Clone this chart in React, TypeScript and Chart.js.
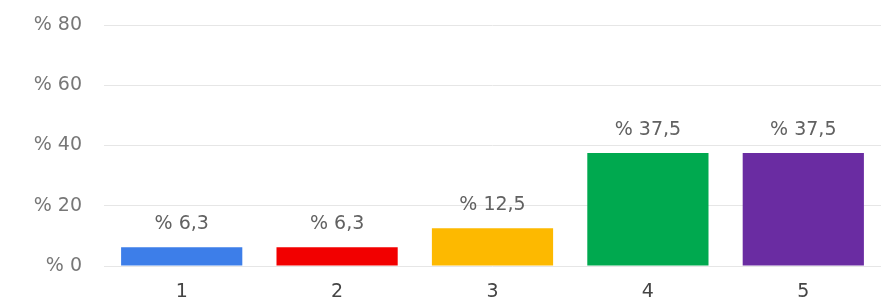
import React, { useEffect, useRef } from "react";
import { Chart, registerables } from "chart.js";

Chart.register(...registerables);

const categories: string[] = ["1", "2", "3", "4", "5"];
const percentages: number[] = [6.25, 6.25, 12.5, 37.5, 37.5];
const barColors: string[] = ["#3d7ee9", "#f20000", "#fdb900", "#00a94f", "#6a2ca2"];
const yTicks: number[] = [0, 20, 40, 60, 80];

const FONT = "'DejaVu Sans', sans-serif";

const fmt = (v: number) => "% " + (Math.round(v * 10) / 10).toFixed(1).replace(".", ",");

const valueLabels = {
  id: "valueLabels",
  afterDatasetsDraw(chart: any) {
    const ctx = chart.ctx;
    const meta = chart.getDatasetMeta(0);
    ctx.save();
    ctx.font = `19px ${FONT}`;
    ctx.fillStyle = "#616161";
    ctx.textAlign = "center";
    ctx.textBaseline = "middle";
    meta.data.forEach((bar: any, i: number) => {
      const v = chart.data.datasets[0].data[i];
      ctx.fillText(fmt(v), bar.x, bar.y - 23);
    });
    ctx.restore();
  },
};

export default function App() {
  const ref = useRef<HTMLCanvasElement | null>(null);

  useEffect(() => {
    document.body.style.margin = "0";
    if (!ref.current) return;
    const chart = new Chart(ref.current, {
      type: "bar",
      data: {
        labels: categories,
        datasets: [
          {
            data: percentages,
            backgroundColor: barColors,
            borderWidth: 0,
            barPercentage: 0.78,
            categoryPercentage: 1,
          },
        ],
      },
      options: {
        responsive: false,
        animation: false,
        events: [],
        layout: { padding: { top: 0, right: 0, bottom: 0, left: 0 } },
        plugins: {
          legend: { display: false },
          tooltip: { enabled: false },
        },
        scales: {
          x: {
            grid: { display: false, drawTicks: false },
            border: { display: false },
            ticks: {
              color: "#444444",
              font: { family: FONT, size: 19 },
              padding: 15,
              maxRotation: 0,
            },
            afterFit: (scale: any) => {
              scale.height = 40;
            },
          },
          y: {
            min: 0,
            max: 80,
            afterBuildTicks: (scale: any) => {
              scale.ticks = yTicks.map((v) => ({ value: v }));
            },
            grid: { color: "#e6e6e6", drawTicks: false, lineWidth: 1 },
            border: { display: false },
            ticks: {
              color: "#777777",
              font: { family: FONT, size: 19 },
              padding: 22,
              callback: (v: any) => "% " + v,
            },
            afterFit: (scale: any) => {
              scale.width = 104;
              scale.paddingTop = 25;
            },
          },
        },
      },
      plugins: [valueLabels],
    });
    return () => chart.destroy();
  }, []);

  return (
    <div style={{ position: "absolute", left: 0, top: 0, width: 881, height: 306, background: "#fff" }}>
      <canvas ref={ref} width={881} height={306} />
    </div>
  );
}
